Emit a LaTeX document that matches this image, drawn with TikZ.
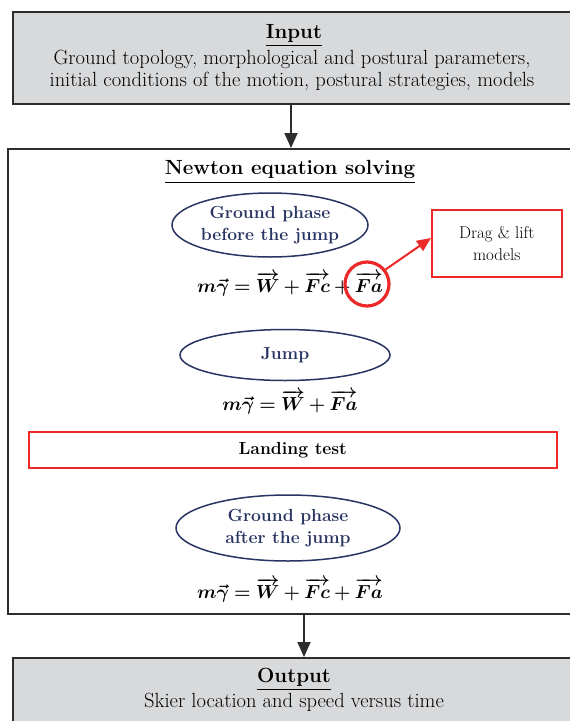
\documentclass[tikz,border=0pt]{standalone}
\usepackage{amsmath,bm}
\usetikzlibrary{shapes.geometric,arrows.meta}
\definecolor{boxgray}{RGB}{216,217,219}
\definecolor{edgec}{RGB}{45,45,45}
\definecolor{navy}{RGB}{40,52,98}
\definecolor{redc}{RGB}{236,40,40}
\newcommand{\bigeq}[1]{\scalebox{1.09}{$\bm{#1}$}}
\tikzset{
  graybox/.style={draw=edgec, fill=boxgray, line width=1.8pt, anchor=north west, inner sep=0pt},
  mainbox/.style={draw=edgec, fill=white, line width=1.8pt, anchor=north west, inner sep=0pt},
  txt/.style={inner sep=0pt, align=center, font=\fontsize{20.5}{22}\selectfont},
  ttl/.style={inner sep=0pt, font=\fontsize{20.5}{22}\selectfont\bfseries},
  phase/.style={ellipse, draw=navy, line width=1.5pt, inner sep=0pt, align=center, text=navy, font=\fontsize{17.5}{22}\selectfont\bfseries},
  eqn/.style={inner sep=0pt, font=\fontsize{17}{22}\selectfont},
  redbox/.style={draw=redc, line width=1.5pt, inner sep=0pt, align=center},
  arr/.style={draw=edgec, line width=1.8pt, -{Triangle[width=13pt,length=15pt]}},
  redarr/.style={draw=redc, line width=2pt, -{Triangle[width=12pt,length=14pt]}}
}
\begin{document}
\begin{tikzpicture}[x=1pt,y=-1pt]
\useasboundingbox (0,0) rectangle (570,721);
\clip (0,0) rectangle (570,721);
\fill[white] (0,0) rectangle (570,721);

% boxes
\node[graybox, minimum width=570pt, minimum height=92pt] (input) at (12,11) {};
\node[mainbox, minimum width=575pt, minimum height=465pt] (main) at (7,148) {};
\node[graybox, minimum width=570pt, minimum height=90pt] (output) at (12,657) {};

% input texts
\node[ttl] (intitle) at (294,36) {\underline{Input}};
\node[txt] (intext) at (292,70) {Ground topology, morphological and postural parameters,\\initial conditions of the motion, postural strategies, models};

% main title
\node[ttl] (mtitle) at (290,172) {\underline{Newton equation solving}};

% phases
\node[phase, minimum width=196pt, minimum height=64pt] (g1) at (270,225) {Ground phase\\before the jump};
\node[eqn] (eq1) at (290,284) {\bigeq{m\vec{\gamma} = \overrightarrow{W} + \overrightarrow{Fc} + \overrightarrow{Fa}}};
\node[circle, draw=redc, line width=3.2pt, minimum size=44pt, inner sep=0pt] (rc) at (367,284) {};
\node[redbox, anchor=north west, minimum width=130pt, minimum height=67pt, font=\fontsize{17}{22}\selectfont] (drag) at (431,209) {Drag \& lift\\models};
\draw[redarr] (rc.38) -- (drag.west |- 0,238);

\node[phase, minimum width=210pt, minimum height=51pt] (jump) at (285,355) {Jump};
\node[eqn] (eq2) at (290,402) {\bigeq{m\vec{\gamma} = \overrightarrow{W} + \overrightarrow{Fa}}};

\node[redbox, anchor=north west, minimum width=528pt, minimum height=36pt, font=\fontsize{17.5}{22}\selectfont\bfseries] (land) at (28,431) {Landing test};

\node[phase, minimum width=224pt, minimum height=66pt] (g2) at (288,528) {Ground phase\\after the jump};
\node[eqn] (eq3) at (290,590) {\bigeq{m\vec{\gamma} = \overrightarrow{W} + \overrightarrow{Fc} + \overrightarrow{Fa}}};

% output texts
\node[ttl] (outtitle) at (294,679) {\underline{Output}};
\node[txt] (outtext) at (294,702) {Skier location and speed versus time};

% arrows
\coordinate (a1) at (291,0);
\coordinate (a2) at (304,0);
\draw[arr] (input.south -| a1) -- (main.north -| a1);
\draw[arr] (main.south -| a2) -- (output.north -| a2);
\end{tikzpicture}
\end{document}
